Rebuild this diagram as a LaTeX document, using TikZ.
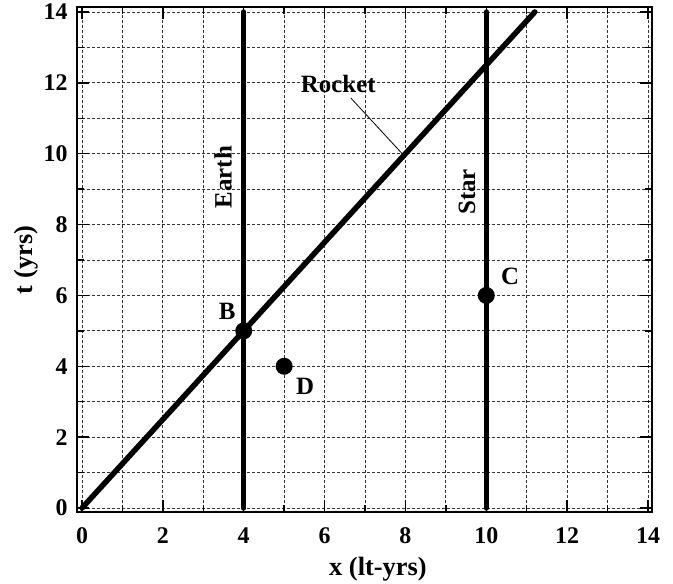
\documentclass[tikz,border=0pt]{standalone}
\usepackage{fontspec}
\setmainfont{Liberation Serif}
\begin{document}
\begin{tikzpicture}[x=40.43bp,y=35.43bp,
  gridline/.style={line width=0.8bp,dash pattern=on 3bp off 2bp,black!80},
  frameline/.style={line width=2.5bp},
  tickline/.style={line width=1.5bp},
  worldline/.style={line width=5.5bp,line cap=round},
  event/.style={circle,fill=black,inner sep=0pt,minimum size=17bp},
  ticklabel/.style={font=\fontsize{24}{27}\selectfont\bfseries,inner sep=0pt},
  lab/.style={font=\fontsize{25}{28}\selectfont\bfseries,inner sep=0pt},
  axlab/.style={font=\fontsize{26.5}{29}\selectfont\bfseries,inner sep=0pt}]
\useasboundingbox (-82bp,-76bp) rectangle (591bp,508bp);
% grid
\foreach \i in {0,...,14} {
  \draw[gridline] (\i,0) -- (\i,14);
  \draw[gridline] (0,\i) -- (14,\i);
}
% ticks
\foreach \i in {0,2,...,14} {
  \draw[tickline] (\i,0) ++(0,-4bp) -- ++(0,12bp);
  \draw[tickline] (\i,14) ++(0,5bp) -- ++(0,-12bp);
  \draw[tickline] (0,\i) ++(-5bp,0) -- ++(12bp,0);
  \draw[tickline] (14,\i) ++(4bp,0) -- ++(-12bp,0);
}
\foreach \i in {1,3,...,13} {
  \draw[tickline] (\i,0) ++(0,-4bp) -- ++(0,7bp);
  \draw[tickline] (\i,14) ++(0,5bp) -- ++(0,-7bp);
  \draw[tickline] (0,\i) ++(-5bp,0) -- ++(7bp,0);
  \draw[tickline] (14,\i) ++(4bp,0) -- ++(-7bp,0);
}
% frame
\draw[frameline] (-5bp,-4bp) rectangle ([xshift=4bp,yshift=5bp]14,14);
% tick labels
\foreach \i in {0,2,...,14} {
  \node[ticklabel] (xl\i) at (\i,-0.79) {\i};
  \node[ticklabel,anchor=east] (yl\i) at (-0.35,\i) {\i};
}
\node[axlab] (xlab) at (7.32,-1.72) {x (lt-yrs)};
\node[axlab,rotate=90] (ylab) at (-1.385,7) {t (yrs)};
% world lines
\coordinate (e0) at (4,0); \coordinate (e1) at (4,14);
\coordinate (s0) at (10,0); \coordinate (s1) at (10,14);
\coordinate (r0) at (0,0); \coordinate (r1) at (11.2,14);
\draw[worldline] (e0) -- (e1);
\draw[worldline] (s0) -- (s1);
\draw[worldline] (r0) -- (r1);
% events
\node[event] (B) at (4,5) {};
\node[event] (C) at (10,6) {};
\node[event] (D) at (5,4) {};
\node[lab] (Bl) at (3.59,5.56) {B};
\node[lab] (Cl) at (10.59,6.55) {C};
\node[lab] (Dl) at (5.52,3.44) {D};
% labels
\node[lab,rotate=90] (earth) at (3.49,9.34) {Earth};
\node[lab,rotate=90] (star) at (9.52,8.92) {Star};
\node[lab] (rocket) at (6.34,11.97) {Rocket};
\coordinate (rp) at (7.96,9.95);
\draw[line width=0.8bp] (6.65,11.57) -- (rp);
\end{tikzpicture}
\end{document}
